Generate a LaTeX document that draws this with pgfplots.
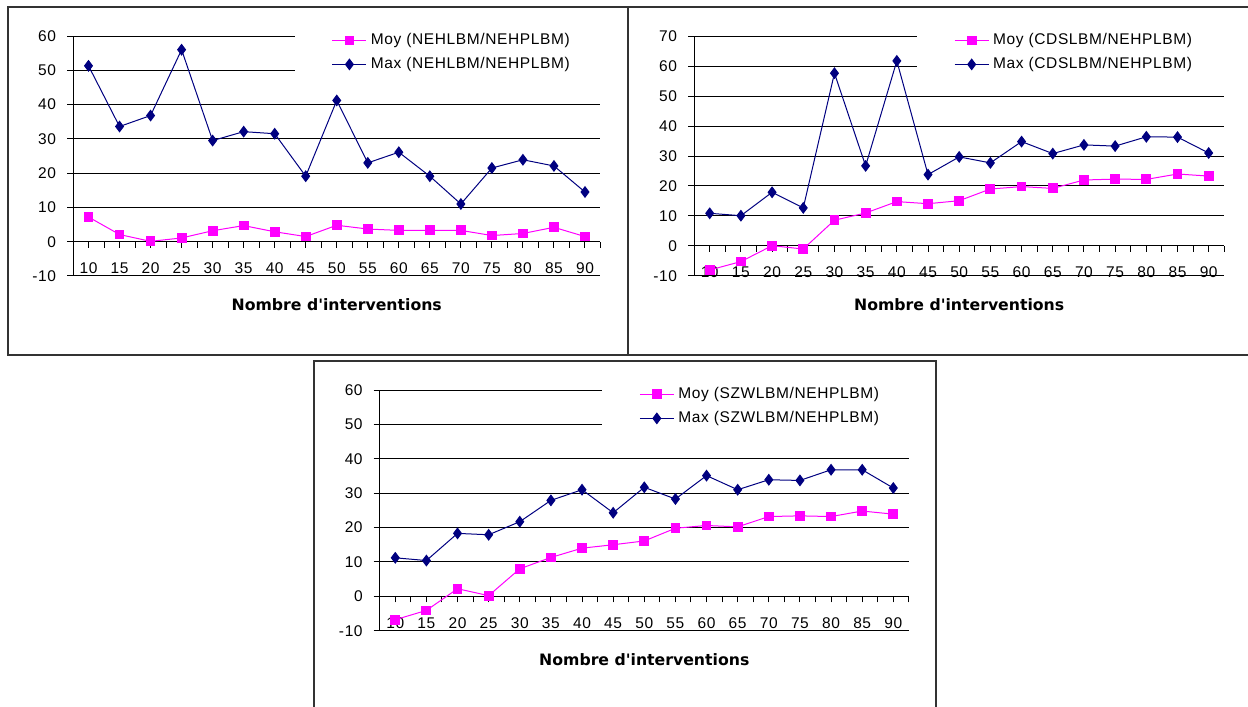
\documentclass[border=0pt]{standalone}
\usepackage{fontspec}
\setmainfont{Liberation Sans}[LetterSpace=4]
\newfontfamily\lblfont{DejaVu Sans}
\usepackage{pgfplots}
\usepackage{pgfplotstable}
\pgfplotsset{compat=1.18}

\definecolor{moy}{RGB}{255,0,255}
\definecolor{maxc}{RGB}{0,0,128}

% interventions, Moy, Max
\pgfplotstableread{
x moy max
10 7.2 51.3
15 2.1 33.6
20 0.1 36.8
25 1.1 56.0
30 3.2 29.5
35 4.7 32.1
40 2.9 31.5
45 1.5 19.1
50 4.8 41.2
55 3.7 23.0
60 3.3 26.1
65 3.3 19.1
70 3.3 11.0
75 1.8 21.5
80 2.4 23.9
85 4.2 22.1
90 1.5 14.5
}\nehl
\pgfplotstableread{
x moy max
10 -8.0 10.9
15 -5.2 10.1
20 0.1 17.9
25 -1.0 12.7
30 8.6 57.6
35 11.0 26.7
40 14.8 61.7
45 14.1 23.8
50 15.1 29.7
55 19.0 27.7
60 19.8 34.8
65 19.2 30.8
70 22.0 33.7
75 22.3 33.3
80 22.2 36.4
85 24.0 36.3
90 23.3 31.0
}\cdsl
\pgfplotstableread{
x moy max
10 -6.8 11.2
15 -4.1 10.4
20 2.2 18.3
25 0.2 17.9
30 8.0 21.7
35 11.3 27.9
40 14.0 31.0
45 15.0 24.3
50 16.1 31.7
55 19.8 28.3
60 20.6 35.1
65 20.2 31.0
70 23.2 33.9
75 23.4 33.7
80 23.2 36.8
85 24.8 36.8
90 23.9 31.5
}\szwl

\pgfplotsset{
  panel/.style={
    scale only axis,
    anchor=south west,
    xmin=7.5, xmax=92.5,
    ymin=-10,
    xtick={10,15,...,90},
    minor xtick={7.5,12.5,...,92.5},
    ytick distance=10,
    axis y line*=left,
    axis x line*=middle,
    hide obscured x ticks=false,
    hide obscured y ticks=false,
    ymajorgrids,
    major grid style={black, line width=0.5pt},
    axis line style={black, line width=0.5pt},
    tick align=center,
    major tick length=3pt, minor tick length=3pt,
    tick style={black, line width=0.5pt},
    xtick style={yshift=-1.5pt},
    ytick style={xshift=-1.5pt},
    /pgf/number format/assume math mode=true,
    ticklabel style={font=\fontsize{7.75}{9}\selectfont},
    xticklabel style={yshift=-5.5pt},
    yticklabel style={xshift=-3.5pt},
    xlabel={\lblfont\bfseries Nombre d'interventions},
    xlabel style={at={(rel axis cs:0.5,0)}, anchor=center, yshift=-14.5pt,
      font=\fontsize{7.85}{9}\selectfont},
    legend style={at={(0.42,1.05)}, anchor=north west, draw=none, fill=white,
      inner xsep=18.5pt, inner ysep=2pt, row sep=0pt,
      font=\fontsize{7.75}{9}\selectfont,
      nodes={inner sep=2pt, text height=6pt, text depth=2pt}},
    legend cell align=left,
    legend image code/.code={
      \draw[#1, mark=none] (0pt,0pt) -- (17pt,0pt);
      \draw[#1, only marks] plot coordinates {(8.5pt,0pt)};
    },
  },
  moyplot/.style={color=moy, line width=0.5pt, mark=square*, mark size=2.2pt, mark options={fill=moy}},
  maxplot/.style={color=maxc, line width=0.5pt, mark=diamond*, mark size=2.6pt, mark options={fill=maxc}},
}

\begin{document}
\begin{tikzpicture}
\path[use as bounding box] (0pt,0pt) rectangle (624pt,353.5pt);

% panel frames
\draw[line width=1pt, black!80] (4pt,176pt) rectangle (314pt,350pt);
\draw[line width=1pt, black!80] (314pt,176pt) -- (314pt,350pt) -- (630pt,350pt);
\draw[line width=1pt, black!80] (314pt,176pt) -- (630pt,176pt);
\draw[line width=1pt, black!80] (157pt,-5pt) -- (157pt,173pt) -- (468pt,173pt) -- (468pt,-5pt);

\begin{axis}[panel, at={(36.5pt,215.5pt)}, width=263.75pt, height=120pt, ymax=60]
\addplot[moyplot] table[x=x, y=moy] {\nehl};
\addplot[maxplot] table[x=x, y=max] {\nehl};
\legend{Moy (NEHLBM/NEHPLBM), Max (NEHLBM/NEHPLBM)}
\end{axis}

\begin{axis}[panel, at={(347.05pt,215.5pt)}, width=265.1pt, height=120pt, ymax=70]
\addplot[moyplot] table[x=x, y=moy] {\cdsl};
\addplot[maxplot] table[x=x, y=max] {\cdsl};
\legend{Moy (CDSLBM/NEHPLBM), Max (CDSLBM/NEHPLBM)}
\end{axis}

\begin{axis}[panel, at={(189.85pt,38.15pt)}, width=264.6pt, height=120.35pt, ymax=60]
\addplot[moyplot] table[x=x, y=moy] {\szwl};
\addplot[maxplot] table[x=x, y=max] {\szwl};
\legend{Moy (SZWLBM/NEHPLBM), Max (SZWLBM/NEHPLBM)}
\end{axis}
\end{tikzpicture}
\end{document}
